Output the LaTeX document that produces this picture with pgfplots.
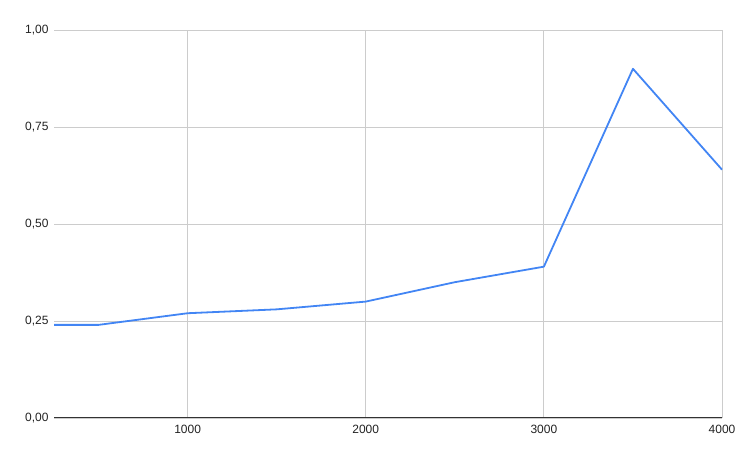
\documentclass[border=0pt]{standalone}
\usepackage{fontspec}
\setmainfont{Liberation Sans}
\usepackage{pgfplots}
\pgfplotsset{compat=1.18}
\definecolor{gblue}{HTML}{4285F4}
\definecolor{ggrid}{HTML}{CCCCCC}
\definecolor{gtext}{HTML}{222222}
\begin{document}
\begin{tikzpicture}[x=1bp,y=1bp]
\path (0,0) rectangle (746,462);
\begin{axis}[
  at={(54bp,44bp)}, anchor=south west,
  scale only axis, width=668bp, height=388bp,
  xmin=250, xmax=4000, ymin=0, ymax=1,
  xtick={1000,2000,3000,4000},
  ytick={0,0.25,0.5,0.75,1},
  yticklabel style={/pgf/number format/.cd, fixed, fixed zerofill, precision=2, use comma},
  xticklabel style={/pgf/number format/.cd, 1000 sep={}},
  /pgf/number format/assume math mode=true,
  ticklabel style={font=\fontsize{12bp}{14bp}\selectfont, text=gtext},
  grid=major,
  major grid style={ggrid, line width=0.8bp},
  axis line style={draw=none},
  major tick length=0pt,
  xticklabel shift=4bp,
  yticklabel shift=2bp,
  clip=false,
]
\addplot[gblue, line width=1.8bp, line join=round] coordinates {
 (250,0.24) (500,0.24) (1000,0.27) (1500,0.28) (2000,0.30) (2500,0.35) (3000,0.39) (3500,0.90) (4000,0.64)
};
\draw[black!80, line width=1bp] (axis cs:250,0) -- (axis cs:4000,0);
\end{axis}
\end{tikzpicture}
\end{document}
